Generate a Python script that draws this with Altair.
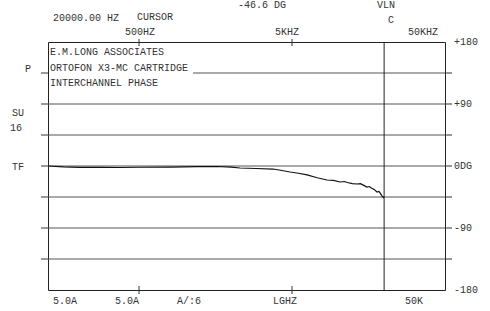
import altair as alt
import pandas as pd

# --- data ---
freq_hz = [127, 160, 206, 280, 376, 500, 797, 1200, 1618, 2000, 2286, 2900, 3759,
           4300, 4853, 5500, 6268, 7300, 8470, 9300, 10300, 11000, 11500, 12400, 13300,
           14000, 14400, 15450, 16000, 16500, 17200, 17970, 18500, 18800, 19300, 19680, 20000]
phase_deg = [0, -1.2, -1.9, -2.0, -2.2, -1.8, -1.5, -1.0, -0.7, -1.5, -2.9, -3.6, -4.4,
             -6.5, -8.7, -10.5, -13, -17, -20.3, -21, -23.2, -22.5, -24, -25.5, -26.1,
             -25.6, -27, -30.5, -29.8, -32, -34, -37.7, -37, -39, -43, -45, -46.6]

grid_deg = [135, 90, 45, 0, -45, -90, -135]
grid_start = [1127, 127, 127, 127, 127, 127, 127]
right_vals = [180, 90, 0, -90, -180]
right_labels = ["+180", "+90", "0DG", "-90", "-180"]
top_tick_freqs = [500, 5000]
cursor_freq = [20000]

# annotation texts (text, page x, page y, align)
notes = [
    ("20000.00 HZ", 53, 18, "left"), ("CURSOR", 137, 17, "left"),
    ("-46.6 DG", 238, 5, "left"), ("VLN", 377, 5, "left"), ("C", 388, 20, "left"),
    ("500HZ", 140, 32, "center"), ("5KHZ", 287, 32, "center"), ("50KHZ", 423, 32, "center"),
    ("E.M.LONG ASSOCIATES", 50, 52, "left"), ("ORTOFON X3-MC CARTRIDGE", 50, 68, "left"),
    ("INTERCHANNEL PHASE", 50, 83, "left"),
    ("P", 25, 69, "left"), ("SU", 12, 113, "left"), ("16", 10, 128, "left"), ("TF", 12, 167, "left"),
    ("5.0A", 53, 301, "left"), ("5.0A", 115, 301, "left"), ("A/:6", 177, 301, "left"),
    ("LGHZ", 273, 301, "left"), ("50K", 405, 301, "left"),
]

PADL, PADT = 48, 42
W, H = 397, 248
FONT = "Liberation Mono"
INK = "#333333"

xs = alt.Scale(type="log", domain=[127, 50000], nice=False)
ys = alt.Scale(domain=[-180, 180], nice=False)

curve_df = pd.DataFrame({"f": freq_hz, "p": phase_deg})
grid_df = pd.DataFrame({"p": grid_deg, "f0": grid_start, "f1": [50000] * len(grid_deg)})
tick_df = pd.DataFrame({"p": grid_deg})
right_df = pd.DataFrame({"p": right_vals, "t": right_labels})
ttick_df = pd.DataFrame({"f": top_tick_freqs})
cur_df = pd.DataFrame({"f": cursor_freq})
note_df = pd.DataFrame(notes, columns=["t", "px", "py", "al"])
note_df["x"] = note_df["px"] - PADL
note_df["y"] = note_df["py"] - PADT

grid = alt.Chart(grid_df).mark_rule(color="#555555", strokeWidth=1).encode(
    x=alt.X("f0:Q", scale=xs, axis=None), x2="f1:Q",
    y=alt.Y("p:Q", scale=ys, axis=None))

lticks = alt.Chart(tick_df).mark_rule(color="#333333", strokeWidth=1).encode(
    y=alt.Y("p:Q", scale=ys, axis=None), x=alt.value(-7), x2=alt.value(0))
rticks = alt.Chart(tick_df).mark_rule(color="#333333", strokeWidth=1).encode(
    y=alt.Y("p:Q", scale=ys, axis=None), x=alt.value(W), x2=alt.value(W + 7))

tticks = alt.Chart(ttick_df).mark_rule(color="#333333", strokeWidth=1).encode(
    x=alt.X("f:Q", scale=xs, axis=None), y=alt.value(-3), y2=alt.value(4))
bticks = alt.Chart(ttick_df).mark_rule(color="#333333", strokeWidth=1).encode(
    x=alt.X("f:Q", scale=xs, axis=None), y=alt.value(H - 4), y2=alt.value(H + 4))

cursor = alt.Chart(cur_df).mark_rule(color="#222222", strokeWidth=1).encode(
    x=alt.X("f:Q", scale=xs, axis=None), y=alt.value(0), y2=alt.value(H))

curve = alt.Chart(curve_df).mark_line(color="#111111", strokeWidth=1.2).encode(
    x=alt.X("f:Q", scale=xs, axis=None), y=alt.Y("p:Q", scale=ys, axis=None))

rlabels = alt.Chart(right_df).mark_text(
    font=FONT, fontSize=10, color=INK, align="left", baseline="middle").encode(
    y=alt.Y("p:Q", scale=ys, axis=None), x=alt.value(W + 9), text="t:N")

layers = [grid, lticks, rticks, tticks, bticks, cursor, curve, rlabels]
for al in ["left", "center"]:
    sub = note_df[note_df["al"] == al]
    layers.append(alt.Chart(sub).mark_text(
        font=FONT, fontSize=10, color=INK, align=al, baseline="middle").encode(
        x=alt.X("x:Q", scale=None), y=alt.Y("y:Q", scale=None), text="t:N"))

chart = alt.layer(*layers).properties(
    width=W, height=H,
    autosize=alt.AutoSizeParams(type="none"),
    padding={"left": PADL, "top": PADT, "right": 490 - PADL - W, "bottom": 311 - PADT - H},
    background="white",
).configure_view(stroke="#222222", strokeWidth=1)

chart.save("out.html", embed_options={"renderer": "svg", "actions": False})
